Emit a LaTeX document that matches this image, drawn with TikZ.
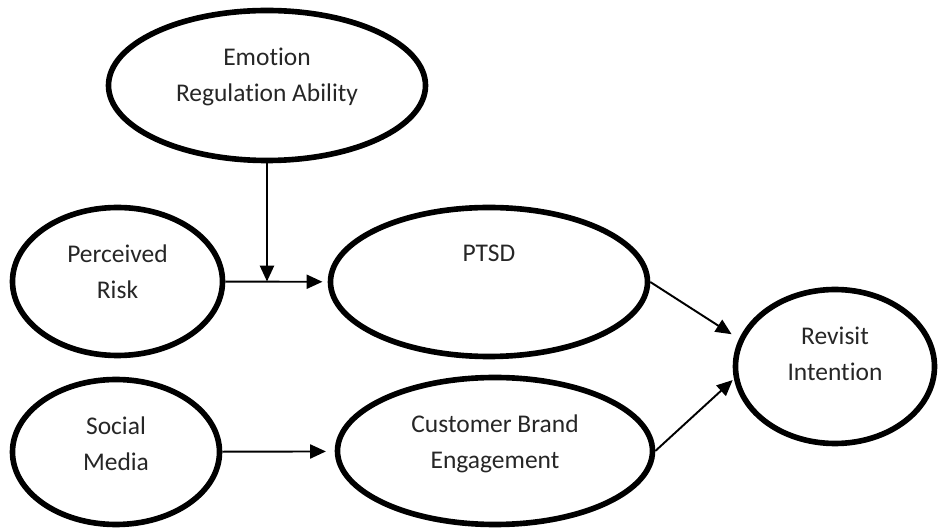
\documentclass[tikz,border=0pt]{standalone}
\usepackage{fontspec}
\setmainfont{Carlito}[Ligatures=NoCommon]
\usetikzlibrary{positioning}
\usetikzlibrary{shapes,arrows.meta,calc}
\tikzset{
	node distance = 0.78cm,
	var/.style = {ellipse, draw, line width=3.2pt, inner sep=0pt},
	lbl/.style = {inner sep=0pt, align=center, text=black!85,
		font=\fontsize{14.5pt}{20.5pt}\selectfont},
}

\begin{document}
\begin{tikzpicture}[-{Triangle[length=9pt,width=8pt]}, line width=1.1pt]
	\useasboundingbox (0,0) rectangle (18.76,10.62);
	% constructs
	\node (era) [var, minimum width=6.34cm, minimum height=3.0cm] at (5.34,8.91) {};
	\node (pr) [var, minimum width=4.2cm, minimum height=2.96cm] at (2.35,4.99) {};
	\node (ptsd) [var, minimum width=6.34cm, minimum height=2.98cm] at (9.78,4.98) {};
	\node (sm) [var, minimum width=4.14cm, minimum height=2.9cm] at (2.32,1.58) {};
	\node (cbe) [var, minimum width=6.3cm, minimum height=2.94cm] at (9.9,1.6) {};
	\node (ri) [var, minimum width=3.98cm, minimum height=3.08cm] at (16.7,3.29) {};
	% text sits near the top of each ellipse
	\node (era-l) [lbl, below=of era.north] {Emotion\\Regulation Ability};
	\node (pr-l) [lbl, below=of pr.north] {Perceived\\Risk};
	\node (ptsd-l) [lbl, below=of ptsd.north] {PTSD};
	\node (sm-l) [lbl, below=of sm.north] {Social\\Media};
	\node (cbe-l) [lbl, below=of cbe.north] {Customer Brand\\Engagement};
	\node (ri-l) [lbl, below=of ri.north] {Revisit\\Intention};
	% paths
	\coordinate (mod) at (era.south |- pr.east);
	\path (pr) edge[shorten >=3pt] (ptsd);
	\path (era) edge (mod);
	\path (sm) edge[shorten >=5pt] (cbe);
	\path (ptsd.east) edge[shorten >=5pt] (ri.164);
	\path (cbe.east) edge[shorten >=1pt] (ri.187);
\end{tikzpicture}
\end{document}
